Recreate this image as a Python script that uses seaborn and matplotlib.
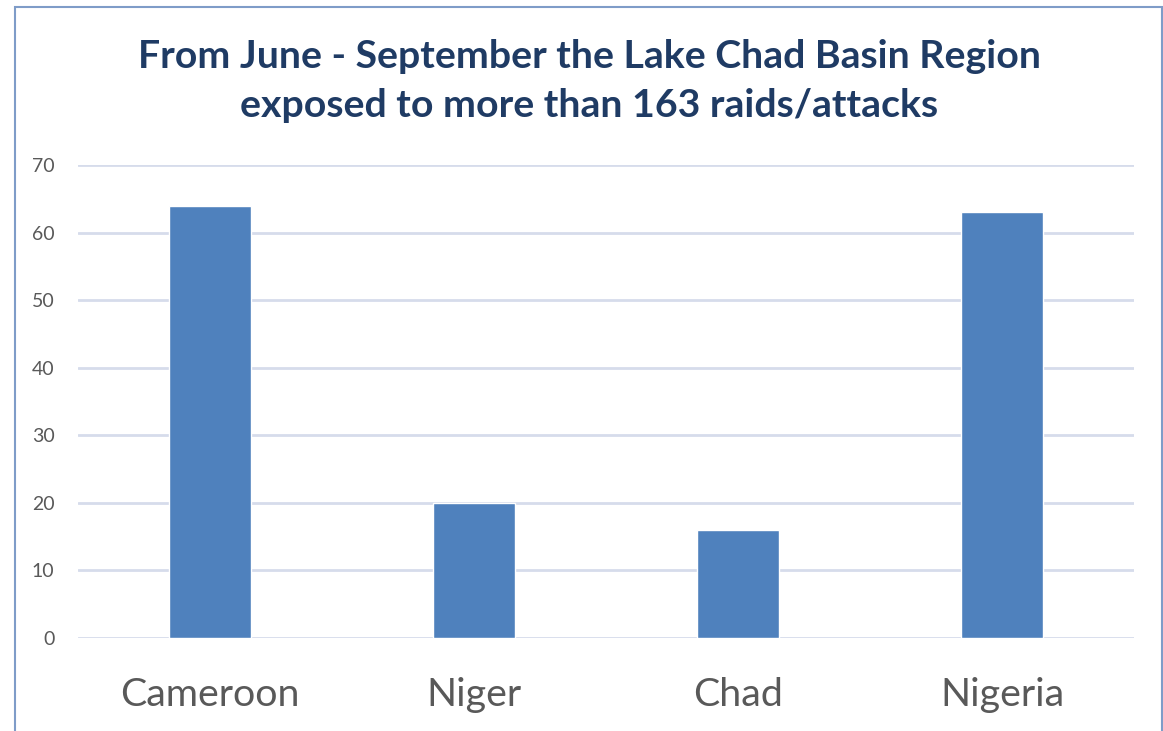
import matplotlib
matplotlib.use("Agg")
import matplotlib.pyplot as plt
import seaborn as sns
import pandas as pd
from matplotlib.patches import Rectangle

categories = ["Cameroon", "Niger", "Chad", "Nigeria"]
values = [64, 20, 16, 63]
yticks = [0, 10, 20, 30, 40, 50, 60, 70]
title = "From June - September the Lake Chad Basin Region\nexposed to more than 163 raids/attacks"

df = pd.DataFrame({"country": categories, "raids": values})

sns.set_theme(style="white")
plt.rcParams["font.family"] = ["Lato", "DejaVu Sans"]

W, H = 1163, 731
fig = plt.figure(figsize=(W / 100, H / 100), dpi=100)
ax = fig.add_axes([78 / W, 1 - 638 / H, (1134 - 78) / W, (638 - 165) / H])

sns.barplot(data=df, x="country", y="raids", color="#4F81BD", saturation=1,
            width=0.31, ax=ax, zorder=3)

ax.set_xlim(-0.5, 3.5)
ax.set_ylim(0, 70)
ax.set_yticks(yticks)
ax.set_yticklabels([str(t) for t in yticks])
ax.yaxis.grid(True, color="#D6DCEB", linewidth=2, zorder=0)
ax.set_axisbelow(True)
for s in ax.spines.values():
    s.set_visible(False)
ax.tick_params(axis="y", length=0, labelsize=14, labelcolor="#595959", pad=17)
ax.tick_params(axis="x", length=0, labelsize=28.4, labelcolor="#595959", pad=28)
ax.set_xlabel("")
ax.set_ylabel("")

fig.text(589 / W, 1 - 81 / H, title, ha="center", va="center", fontsize=28.3,
         fontweight="bold", color="#1F3B64", linespacing=1.5)

fig.patches.append(Rectangle((14.5 / W, -0.1), (1161.5 - 14.5) / W, 1 - 7.5 / H + 0.1,
                             transform=fig.transFigure, fill=False,
                             edgecolor="#7F9CC8", linewidth=1.5))

fig.savefig("out.png", dpi=100)
